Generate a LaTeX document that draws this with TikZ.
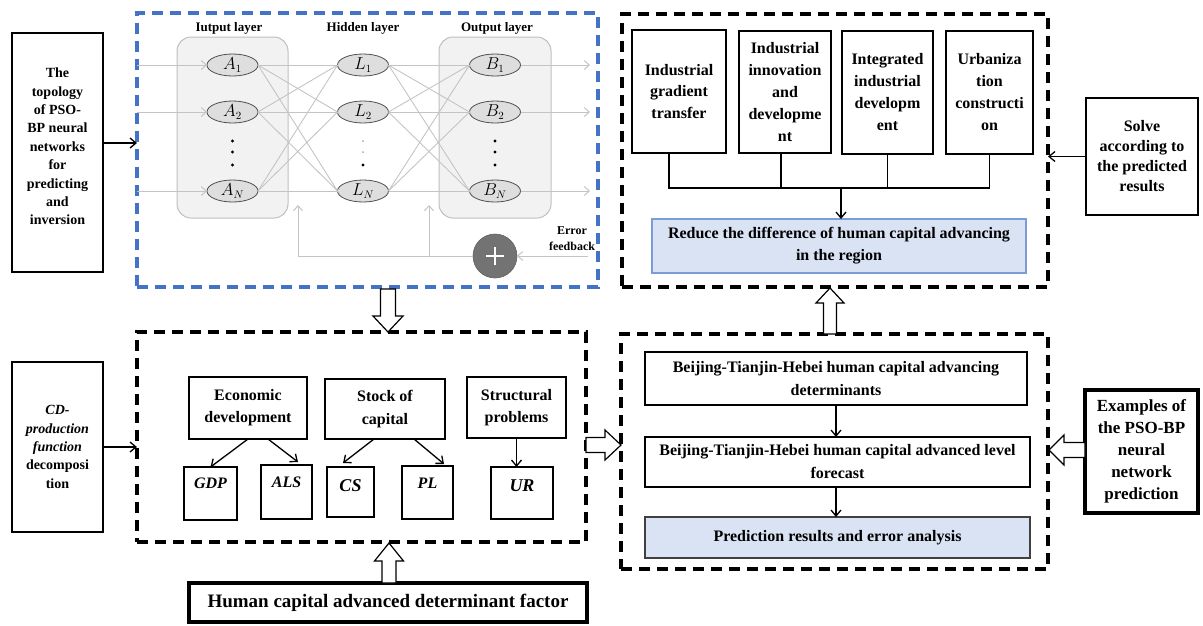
\documentclass[tikz,border=0pt]{standalone}
\usepackage{fontspec}
\setmainfont{Liberation Serif}
\usetikzlibrary{arrows.meta,shapes.geometric,calc}

\definecolor{nnblue}{RGB}{68,114,196}
\definecolor{grpfill}{RGB}{242,242,242}
\definecolor{grpline}{RGB}{191,191,191}
\definecolor{wire}{RGB}{196,196,196}
\definecolor{cellfill}{RGB}{222,222,222}
\definecolor{cellline}{RGB}{80,80,80}
\definecolor{sumfill}{RGB}{115,115,115}
\definecolor{resfill}{RGB}{218,227,243}
\definecolor{resline}{RGB}{124,156,214}

\begin{document}
\begin{tikzpicture}[x=1pt,y=-1pt,
  every node/.style={inner sep=0pt, outer sep=0pt},
  txt/.style={font=\bfseries\fontsize{16}{22}\selectfont, align=center},
  box/.style={draw, line width=1.3pt, txt},
  vbox/.style={draw, line width=1.3pt, font=\bfseries\itshape\fontsize{16}{16}\selectfont},
  dbox/.style={draw=#1, line width=3.4pt, dash pattern=on 11pt off 7pt},
  grp/.style={draw=grpline, fill=grpfill, line width=1pt, rounded corners=14pt},
  cell/.style={ellipse, draw=cellline, fill=cellfill, line width=0.8pt,
    minimum width=51pt, minimum height=22pt, font=\fontsize{16}{16}\selectfont},
  wireline/.style={draw=wire, line width=0.9pt},
  garr/.style={draw=wire, line width=1pt, -{Straight Barb[length=5pt,width=9pt]}},
  arr/.style={line width=1.3pt, -{Straight Barb[length=6pt,width=10pt]}},
  harrow/.style={draw, line width=1.2pt, fill=white},
  ttl/.style={font=\bfseries\fontsize{13}{13}\selectfont}
]
\useasboundingbox (0,0) rectangle (1203,625);

% ---------- dashed frames ----------
\node[dbox=nnblue, minimum width=461pt, minimum height=274pt] (nnframe) at (367.5,150) {};
\node[dbox=black, minimum width=426pt, minimum height=273pt] (trframe) at (835,150.5) {};
\node[dbox=black, minimum width=449pt, minimum height=210pt] (llframe) at (361.5,437) {};
\node[dbox=black, minimum width=427pt, minimum height=235pt] (lrframe) at (834.5,451.5) {};

% ---------- neural network ----------
\node[ttl] (ttlin) at (229,28) {Iutput layer};
\node[ttl] (ttlhid) at (363,28) {Hidden layer};
\node[ttl] (ttlout) at (497,28) {Output layer};

\node[grp, minimum width=111pt, minimum height=181pt] (ingrp) at (232.5,127.5) {};
\node[grp, minimum width=112pt, minimum height=181pt] (outgrp) at (495,127.5) {};

\node[cell] (A1) at (232.5,65) {$A_1$};
\node[cell] (A2) at (232.5,112) {$A_2$};
\node[cell] (AN) at (232.5,191) {$A_N$};
\node[cell] (L1) at (363,65) {$L_1$};
\node[cell] (L2) at (363,112) {$L_2$};
\node[cell] (LN) at (363,191) {$L_N$};
\node[cell] (B1) at (495,65) {$B_1$};
\node[cell] (B2) at (495,112) {$B_2$};
\node[cell] (BN) at (495,191) {$B_N$};

\foreach \i in {1,2,N}{
  \foreach \j in {1,2,N}{
    \draw[wireline] (A\i.east) -- (L\j.west);
    \draw[wireline] (L\i.east) -- (B\j.west);
  }
}

\coordinate (outend) at (590,0);
\foreach \r in {1,2,N}{
  \draw[garr] (nnframe.west |- A\r) -- (A\r.west);
  \draw[garr] (B\r.east) -- (outend |- B\r);
}

% ellipsis dots
\foreach \y in {141,152,165}{
  \fill (232.5,\y) circle (1.7pt);
  \fill (495,\y) circle (1.7pt);
}
\fill[gray!70] (363,141) circle (1pt);
\fill[gray!70] (363,152) circle (1pt);
\fill (363,165) circle (1.7pt);

% error feedback loop
\node[circle, fill=sumfill, draw=sumfill!85!black, line width=0.6pt, minimum size=44pt] (sum) at (495,256) {};
\draw[white, line width=2pt] ([xshift=-9pt]sum.center) -- ([xshift=9pt]sum.center);
\draw[white, line width=2pt] ([yshift=-9pt]sum.center) -- ([yshift=9pt]sum.center);
\coordinate (errin) at (588,256);
\coordinate (fbA) at (298,205);
\coordinate (fbB) at (429,205);
\draw[garr] (errin) -- (sum.east);
\draw[garr] (sum.west) -- (sum.west -| fbA) -- (fbA);
\draw[garr] (sum.west -| fbB) -- (fbB);
\node[font=\bfseries\fontsize{12}{16}\selectfont, align=center] (errlbl) at (572,239) {Error\\feedback};

% ---------- left side boxes ----------
\node[draw, line width=2.2pt, minimum width=91pt, minimum height=239pt] (tl) at (57.5,152.5) {};
\node[font=\bfseries\fontsize{14}{18.4}\selectfont, align=center] (tltxt) at (57.5,146.5)
  {The\\topology\\of PSO-\\BP neural\\networks\\for\\predicting\\and\\inversion};
\coordinate (tlrow) at (0,143);
\draw[arr] (tl.east |- tlrow) -- (nnframe.west |- tlrow);

\node[box, line width=2pt, minimum width=91pt, minimum height=170pt,
  font=\bfseries\fontsize{14}{18.3}\selectfont] (cd) at (57.5,447)
  {\textit{CD-}\\\textit{production}\\\textit{function}\\decomposi\\tion};
\draw[arr] (cd.east) -- (cd.east -| llframe.west);

% ---------- top right panel ----------
\node[box, minimum width=94pt, minimum height=123pt, font=\bfseries\fontsize{16}{21.5}\selectfont] (tb1) at (679,91.5) {Industrial\\gradient\\transfer};
\node[box, minimum width=92pt, minimum height=122pt] (tb2) at (785,92) {Industrial\\innovation\\and\\developme\\nt};
\node[box, minimum width=91pt, minimum height=123pt] (tb3) at (887.5,92.5) {Integrated\\industrial\\developm\\ent};
\node[box, minimum width=87pt, minimum height=123pt] (tb4) at (989.5,92.5) {Urbaniza\\tion\\constructi\\on};

\node[box, draw=resline, fill=resfill, minimum width=374pt, minimum height=54pt] (rb) at (839,246)
  {Reduce the difference of human capital advancing\\in the region};

\coordinate (bus) at (0,188);
\draw[line width=1.3pt] ([xshift=-10pt]tb1.south) -- ([xshift=-10pt]tb1.south |- bus)
  -- (tb4.south |- bus) -- (tb4.south);
\draw[line width=1.3pt] ([xshift=-4pt]tb2.south) -- ([xshift=-4pt]tb2.south |- bus);
\draw[line width=1.3pt] (tb3.south) -- (tb3.south |- bus);
\draw[arr] ([xshift=2pt]rb.north |- bus) -- ([xshift=2pt]rb.north);

\node[box, line width=2pt, minimum width=112pt, minimum height=117pt,
  font=\bfseries\fontsize{16}{20}\selectfont] (solve) at (1142,156.5)
  {Solve\\according to\\the predicted\\results};
\draw[arr] (solve.west) -- (solve.west -| trframe.east);

% ---------- lower left panel ----------
\node[box, minimum width=118pt, minimum height=62pt] (econ) at (248,408) {Economic\\development};
\node[box, minimum width=120pt, minimum height=60pt, font=\bfseries\fontsize{16}{23}\selectfont] (stock) at (385,409) {Stock of\\capital};
\node[box, minimum width=99pt, minimum height=61pt] (struct) at (516.5,407.5) {Structural\\problems};

\node[vbox, minimum width=53pt, text height=21.5pt, text depth=31.5pt] (gdp) at (210.5,493.5) {GDP};
\node[vbox, minimum width=51pt, text height=22.5pt, text depth=31.5pt] (als) at (286.5,492) {ALS};
\node[vbox, minimum width=47pt, text height=24pt, text depth=26pt, font=\bfseries\itshape\fontsize{18}{18}\selectfont] (cs) at (350.5,492) {CS};
\node[vbox, minimum width=51pt, text height=22.5pt, text depth=30.5pt] (pl) at (427.5,492.5) {PL};
\node[vbox, minimum width=62pt, text height=24pt, text depth=28pt, font=\bfseries\itshape\fontsize{18}{18}\selectfont] (ur) at (522,493) {UR};

\draw[arr] (econ.south) -- (gdp.north);
\draw[arr] ([xshift=20pt]econ.south) -- ([xshift=11.5pt,yshift=3pt]als.north);
\draw[arr] ([xshift=-11pt]stock.south) -- ([xshift=-7.5pt,yshift=4pt]cs.north);
\draw[arr] ([xshift=29pt]stock.south) -- ([xshift=16.5pt,yshift=2pt]pl.north);
\draw[arr] (struct.south) -- (struct.south |- ur.north);

\node[box, line width=3.5pt, minimum width=398pt, minimum height=39pt,
  font=\bfseries\fontsize{19}{19}\selectfont] (hc) at (388,602.5) {Human capital advanced determinant factor};

% ---------- lower right panel ----------
\node[box, minimum width=382pt, minimum height=53pt, font=\bfseries\fontsize{16}{23}\selectfont] (lr1) at (836,378.5)
  {Beijing-Tianjin-Hebei human capital advancing\\determinants};
\node[box, minimum width=385pt, minimum height=50pt, font=\bfseries\fontsize{16}{23}\selectfont] (lr2) at (837.5,462)
  {Beijing-Tianjin-Hebei human capital advanced level\\forecast};
\node[box, draw=black!75, fill=resfill, minimum width=385pt, minimum height=41pt] (lr3) at (837.5,537.5)
  {Prediction results and error analysis};
\draw[arr] (lr1.south) -- (lr1.south |- lr2.north);
\draw[arr] (lr1.south |- lr2.south) -- (lr1.south |- lr3.north);

\node[box, line width=3.5pt, minimum width=113pt, minimum height=123pt,
  font=\bfseries\fontsize{17}{22}\selectfont] (ex) at (1141.5,451.5)
  {Examples of\\the PSO-BP\\neural\\network\\prediction};

% ---------- hollow block arrows between panels ----------
\draw[harrow] (380.5,289) -- (395.5,289) -- (395.5,316) -- (403,316) -- (388,332) -- (373,316) -- (380.5,316) -- cycle;
\draw[harrow] (823.5,334) -- (836.5,334) -- (836.5,303) -- (844,303) -- (830,288) -- (816,303) -- (823.5,303) -- cycle;
\draw[harrow] (382,583) -- (396,583) -- (396,561) -- (403.5,561) -- (389,543) -- (374.5,561) -- (382,561) -- cycle;
\draw[harrow] (586,437.5) -- (605,437.5) -- (605,430) -- (621,445) -- (605,460) -- (605,452.5) -- (586,452.5) -- cycle;
\draw[harrow] (1085,442.5) -- (1064,442.5) -- (1064,435) -- (1049,450) -- (1064,465) -- (1064,457.5) -- (1085,457.5) -- cycle;
\end{tikzpicture}
\end{document}
